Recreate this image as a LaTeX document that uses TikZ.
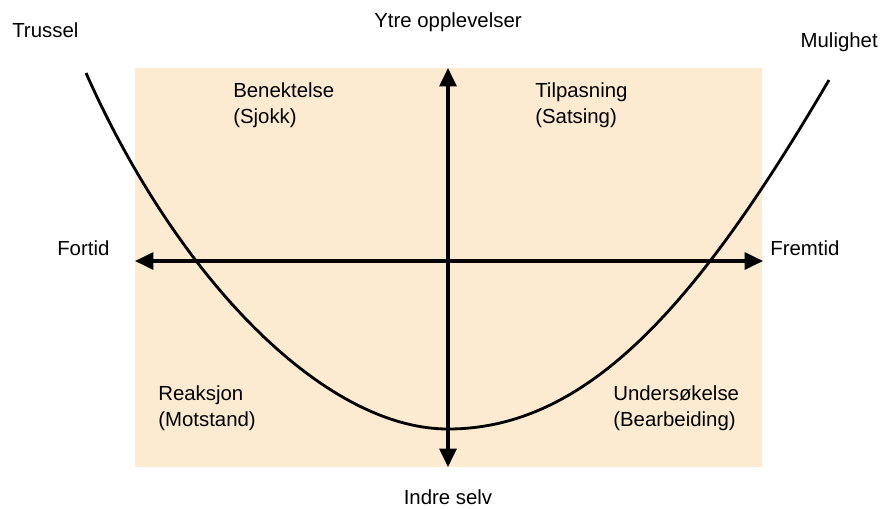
\documentclass[tikz,border=0pt]{standalone}
\usepackage{fontspec}
\setmainfont{Liberation Sans}
\usetikzlibrary{arrows.meta}
\definecolor{bgpeach}{HTML}{FCEBD0}
\tikzset{
  axisline/.style={line width=2.2pt, {Triangle[length=13pt,width=12pt]}-{Triangle[length=13pt,width=12pt]}},
  lbl/.style={font=\fontsize{14.5}{18.5}\selectfont, inner sep=0pt},
  phase/.style={lbl, anchor=west, align=left}
}

\begin{document}
\begin{tikzpicture}[x=0.025cm,y=-0.025cm]
\useasboundingbox (0,0) rectangle (880,508);
\fill [bgpeach] (135,68) rectangle (762,467);
% axes
\coordinate (past) at (135,261);
\coordinate (future) at (763,261);
\coordinate (outer) at (448,68);
\coordinate (inner) at (448,467);
\draw [axisline] (past) -- (future);
\draw [axisline] (inner) -- (outer);
% change curve
\coordinate (curvestart) at (86,73);
\coordinate (curvelow) at (448,429);
\coordinate (curveend) at (829,80);
\draw [line width=2pt] (curvestart) .. controls (178,280) and (325,429) .. (curvelow)
  .. controls (590,429) and (700,300) .. (curveend);
% labels
\node [lbl, anchor=west] (threat) at (12,30) {Trussel};
\node [lbl] (outerlbl) at (448,22) {Ytre opplevelser};
\node [lbl, anchor=east] (chance) at (878,42) {Mulighet};
\node [lbl, anchor=west] (pastlbl) at (57,248) {Fortid};
\node [lbl, anchor=west] (futurelbl) at (770,248) {Fremtid};
\node [lbl] (innerlbl) at (448,497) {Indre selv};
\node [phase] (denial) at (233,105) {Benektelse\\(Sjokk)};
\node [phase] (adapt) at (535,105) {Tilpasning\\(Satsing)};
\node [phase] (react) at (158,408) {Reaksjon\\(Motstand)};
\node [phase] (explore) at (613,408) {Undersøkelse\\(Bearbeiding)};
\end{tikzpicture}
\end{document}
